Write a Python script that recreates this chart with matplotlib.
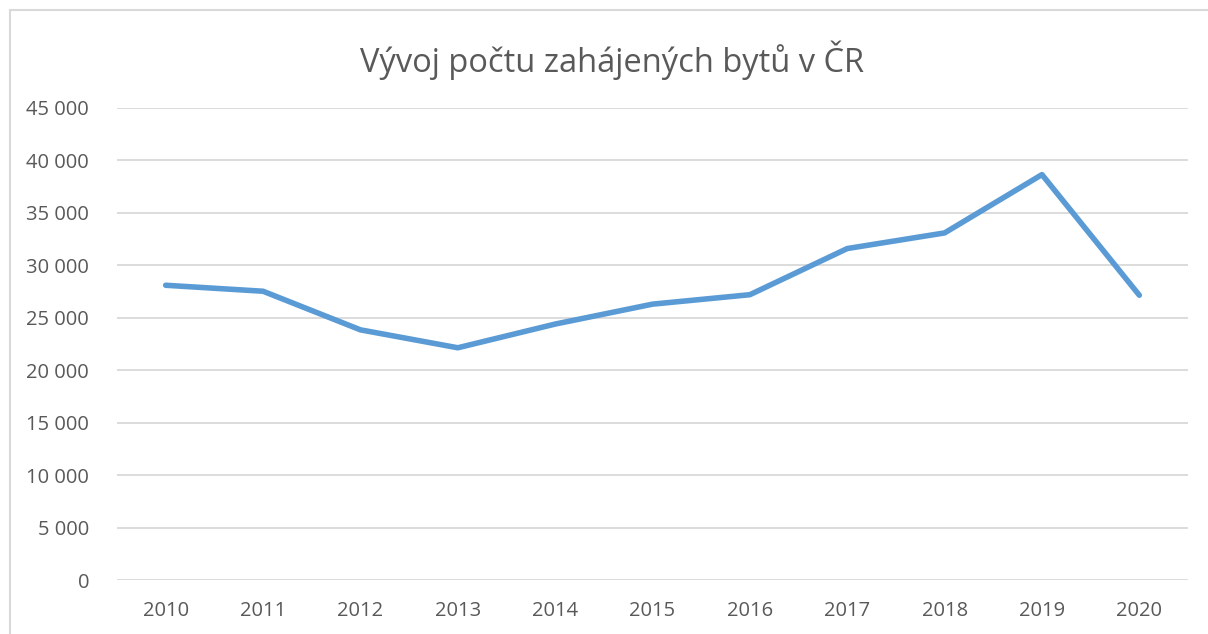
import matplotlib
matplotlib.use("Agg")
import matplotlib.pyplot as plt
from matplotlib.patches import Rectangle
from matplotlib.ticker import FuncFormatter

years = ["2010", "2011", "2012", "2013", "2014", "2015", "2016", "2017", "2018", "2019", "2020"]
starts = [28100, 27530, 23850, 22140, 24400, 26300, 27200, 31600, 33090, 38650, 27150]

plt.rcParams['font.family'] = ['Open Sans', 'DejaVu Sans']

fig = plt.figure(figsize=(12.08, 6.34), dpi=100)
ax = fig.add_axes([117/1208, 1 - 580/634, (1188 - 117)/1208, (580 - 108)/634])

# chart border (cut off at right and bottom)
fig.patches.append(Rectangle((10/1208, -0.1), 1.2, 1 - 10/634 + 0.1, transform=fig.transFigure,
                             fill=False, edgecolor="#D9D9D9", linewidth=1.5))

x = list(range(len(years)))
ax.plot(x, starts, color="#5B9BD5", linewidth=4.0, solid_capstyle="round", solid_joinstyle="round", zorder=3)

ax.set_xlim(-0.5, len(years) - 0.5)
ax.set_ylim(0, 45000)
ax.set_yticks(range(0, 45001, 5000))
ax.yaxis.set_major_formatter(FuncFormatter(lambda v, p: f"{int(v):,}".replace(",", " ")))
ax.set_xticks(x)
ax.set_xticklabels(years)

ax.grid(axis="y", color="#D9D9D9", linewidth=1.3)
ax.set_axisbelow(True)
for s in ax.spines.values():
    s.set_visible(False)
ax.tick_params(axis="both", length=0, labelsize=14.5, colors="#595959")
ax.tick_params(axis="y", pad=20)
ax.tick_params(axis="x", pad=15)

fig.text(612/1208, 1 - 60/634, "Vývoj počtu zahájených bytů v ČR", ha="center", va="center",
         fontsize=23.5, color="#595959")

fig.savefig("out.png", dpi=100)
